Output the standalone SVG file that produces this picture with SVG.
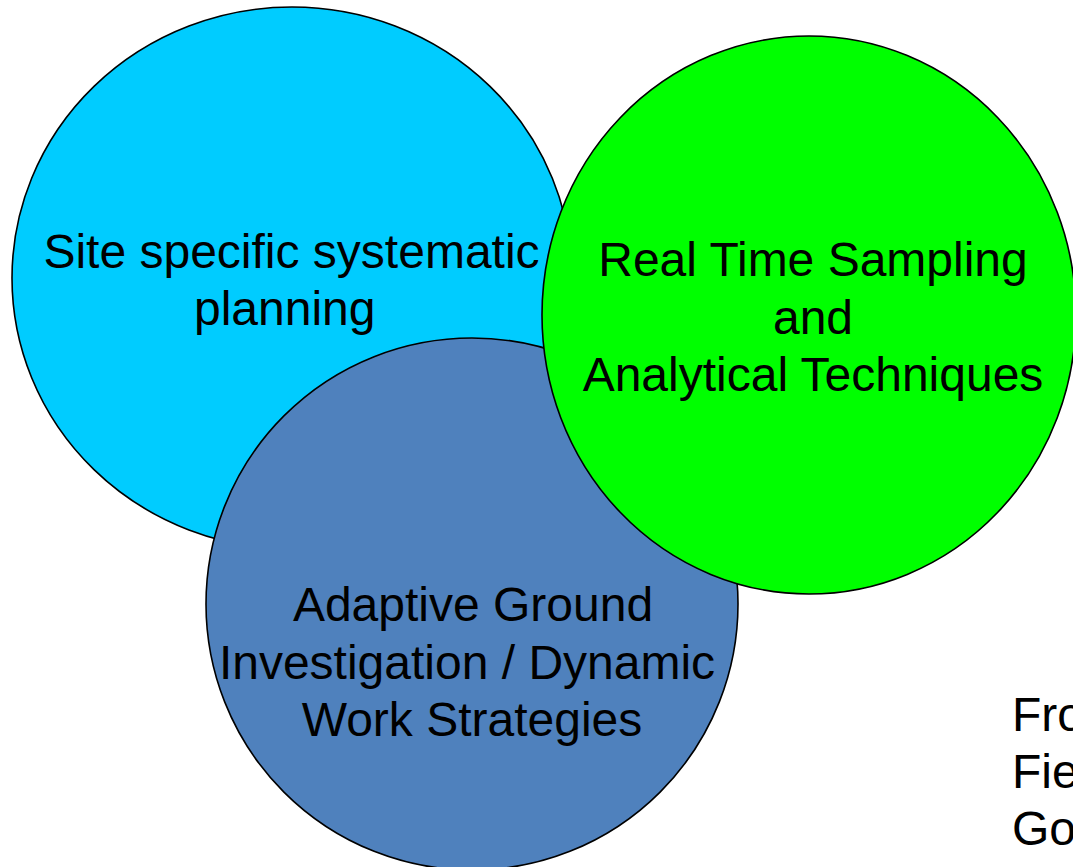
<svg xmlns="http://www.w3.org/2000/svg" width="1073" height="867" viewBox="0 0 1073 867">
  <style>
    .c { stroke: #000; stroke-width: 1.6; }
    .t { font-family: "Liberation Sans", Arial, sans-serif; font-size: 48px; fill: #000; }
    .m { text-anchor: middle; }
  </style>
  <rect width="1073" height="867" fill="#fff"/>
  <g id="node-site-planning">
    <ellipse class="c" cx="292" cy="278" rx="280" ry="271" fill="#00CCFF"/>
    <text class="t m" x="291.5" y="268">Site specific systematic</text>
    <text class="t" x="194" y="325">planning</text>
  </g>
  <g id="node-adaptive">
    <circle class="c" cx="472" cy="604" r="266" fill="#4F81BD"/>
    <text class="t m" x="473" y="621">Adaptive Ground</text>
    <text class="t m" x="467" y="679">Investigation / Dynamic</text>
    <text class="t m" x="472" y="736">Work Strategies</text>
  </g>
  <g id="node-real-time">
    <ellipse class="c" cx="809" cy="315" rx="267" ry="279" fill="#00FF00"/>
    <text class="t m" x="813" y="276">Real Time Sampling</text>
    <text class="t m" x="813" y="334">and</text>
    <text class="t m" x="813" y="391">Analytical Techniques</text>
  </g>
  <g id="connectors"/>
  <g id="source-note">
    <text class="t" x="1012" y="731">Fro</text>
    <text class="t" x="1012" y="788">Fie</text>
    <text class="t" x="1012" y="845">Go</text>
  </g>
</svg>
